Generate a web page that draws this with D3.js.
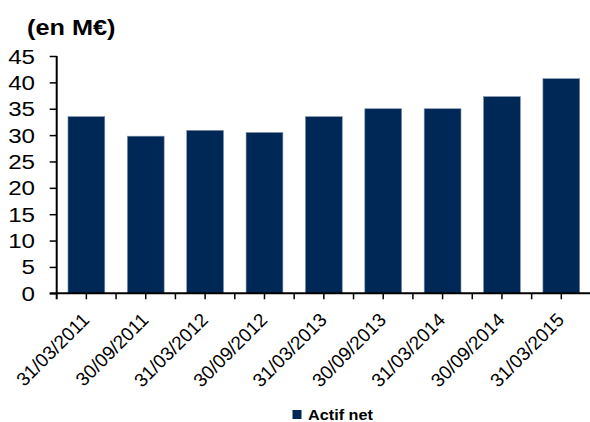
<!DOCTYPE html>
<html>
<head>
<meta charset="utf-8">
<script src="https://cdn.jsdelivr.net/npm/d3@7/dist/d3.min.js"></script>
<style>
body { margin: 0; background: #fff; }
svg { display: block; font-family: "Liberation Sans", Arial, sans-serif; }
</style>
</head>
<body>
<svg width="590" height="422"></svg>
<script>
var dates = ["31/03/2011", "30/09/2011", "31/03/2012", "30/09/2012", "31/03/2013",
             "30/09/2013", "31/03/2014", "30/09/2014", "31/03/2015"];
var actifNet = [33.5, 29.8, 30.9, 30.5, 33.5, 35.0, 35.0, 37.3, 40.7];
var yTicks = [0, 5, 10, 15, 20, 25, 30, 35, 40, 45];
var unitLabel = "(en M€)";
var seriesName = "Actif net";

var stretch = 1.15; // le graphique d'origine est étiré horizontalement
var barColor = "#002856";

var svg = d3.select("svg");

var x = d3.scaleBand()
    .domain(dates)
    .range([56.7, 591])
    .paddingInner(0.38)
    .paddingOuter(0.19);

var y = d3.scaleLinear()
    .domain([0, 45])
    .range([293.3, 56]);

// texte étiré autour de son point d'ancrage
function stretchedText(g, txt, px, py, sx, extra) {
    return g.append("text")
        .text(txt)
        .attr("transform", "translate(" + px + "," + py + ") scale(" + sx + ",1)" + (extra || ""));
}

// barres
svg.append("g").selectAll("rect")
    .data(actifNet)
    .enter().append("rect")
    .attr("x", function(d, i) { return x(dates[i]); })
    .attr("y", function(d) { return y(d); })
    .attr("width", x.bandwidth())
    .attr("height", function(d) { return y(0) - y(d); })
    .attr("fill", barColor)
    .attr("stroke", "#8093ab")
    .attr("stroke-width", 0.6);

// axe Y
var yAxis = svg.append("g")
    .attr("transform", "translate(" + x.range()[0] + ",0)")
    .call(d3.axisLeft(y).tickValues(yTicks).tickSize(7).tickFormat(""));
yAxis.select(".domain").attr("stroke", "#000").attr("stroke-width", 2).attr("d", "M0," + y(45) + "V" + (y(0) + 6));
yAxis.selectAll(".tick line").attr("stroke", "#000").attr("stroke-width", 1.5);

var yLab = svg.append("g").attr("font-size", 21).attr("text-anchor", "end").attr("fill", "#000");
yTicks.forEach(function(t) {
    stretchedText(yLab, t, 35, y(t) + 7.5, stretch);
});

// axe X : graduations au centre et entre les catégories
var xAxis = svg.append("g")
    .attr("transform", "translate(0," + y(0) + ")")
    .call(d3.axisBottom(x).tickSize(6).tickFormat("").tickSizeOuter(0));
xAxis.select(".domain").attr("stroke", "#000").attr("stroke-width", 2)
    .attr("d", "M" + (x.range()[0] - 7) + ",0H" + x.range()[1]);
xAxis.selectAll(".tick line").attr("stroke", "#000").attr("stroke-width", 1.5);

var half = (x.step() - x.bandwidth()) / 2;
xAxis.selectAll(".sep")
    .data(dates.slice(1))
    .enter().append("line")
    .attr("class", "sep")
    .attr("x1", function(d) { return x(d) - half; })
    .attr("x2", function(d) { return x(d) - half; })
    .attr("y1", 0)
    .attr("y2", 6)
    .attr("stroke", "#000")
    .attr("stroke-width", 1.5);

var xLab = svg.append("g").attr("font-size", 19).attr("text-anchor", "end").attr("fill", "#000");
dates.forEach(function(d) {
    var cx = x(d) + x.bandwidth() / 2;
    stretchedText(xLab, d, cx + 4, 321, 1, " rotate(-45)");
});

// titre
stretchedText(svg.append("g").attr("font-size", 22).attr("font-weight", "bold"), unitLabel, 27, 35, stretch);

// légende
svg.append("rect")
    .attr("x", 292.5).attr("y", 410)
    .attr("width", 9).attr("height", 9)
    .attr("fill", barColor);
stretchedText(svg.append("g").attr("font-size", 14.5).attr("font-weight", "bold"), seriesName, 308, 420, 1.12);
</script>
</body>
</html>
